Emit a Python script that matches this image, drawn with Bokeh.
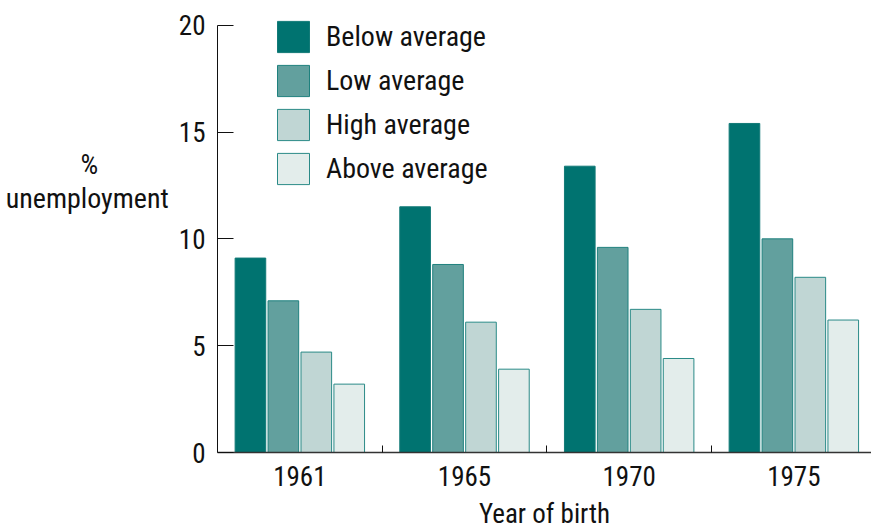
from bokeh.plotting import figure
from bokeh.models import ColumnDataSource, Range1d, FixedTicker
from bokeh.transform import dodge
from bokeh.embed import file_html
from bokeh.resources import INLINE

years = ["1961", "1965", "1970", "1975"]
below = [9.1, 11.5, 13.4, 15.4]
low = [7.1, 8.8, 9.6, 10.0]
high = [4.7, 6.1, 6.7, 8.2]
above = [3.2, 3.9, 4.4, 6.2]
series_names = ["Below average", "Low average", "High average", "Above average"]
y_ticks = [0, 5, 10, 15, 20]

FONT = "Roboto Condensed"
NB = "\u00a0"

src = ColumnDataSource(dict(x=list(range(len(years))), below=below, low=low, high=high, above=above))

p = figure(width=871, height=532, output_backend="svg", toolbar_location=None,
           x_range=Range1d(-0.5, 3.4715), y_range=Range1d(0, 20.5),
           min_border_left=217, min_border_top=14, min_border_bottom=80, min_border_right=0)
p.outline_line_color = None
p.xgrid.visible = False
p.ygrid.visible = False
p.background_fill_color = "white"

fills = ["#007370", "#62a09e", "#c0d6d4", "#e3edeb"]
lines = ["#127a77", "#1f817e", "#2a8a87", "#2a8a87"]
cols = ["below", "low", "high", "above"]
offs = [-0.3, -0.1, 0.1, 0.3]
for col, name, fc, lc, off in zip(cols, series_names, fills, lines, offs):
    p.vbar(x=dodge("x", off), top=col, bottom=0, width=0.186, source=src,
           fill_color=fc, line_color=lc, line_width=1, legend_label=name)

# y axis
ya = p.yaxis[0]
ya.ticker = FixedTicker(ticks=y_ticks)
ya.bounds = (y_ticks[0], y_ticks[-1])
ya.major_tick_in = 16
ya.major_tick_out = 0
ya.minor_tick_line_color = None
ya.axis_line_color = "#111111"
ya.major_tick_line_color = "#111111"
ya.major_label_text_font = FONT
ya.major_label_text_font_size = "27px"
ya.major_label_text_color = "#111111"
ya.major_label_standoff = 12
ya.axis_label = (NB * 11 + "%" + NB * 11 + "\nunemployment\n" + NB + "\n" + NB + "\n" + NB)
ya.axis_label_orientation = "horizontal"
ya.axis_label_text_font = FONT
ya.axis_label_text_font_size = "28px"
ya.axis_label_text_font_style = "normal"
ya.axis_label_text_color = "#111111"
ya.axis_label_text_line_height = 1.05
ya.axis_label_standoff = 7

# x axis
xa = p.xaxis[0]
xa.ticker = FixedTicker(ticks=list(range(len(years))), minor_ticks=[i + 0.5 for i in range(len(years) - 1)])
xa.major_label_overrides = {i: y for i, y in enumerate(years)}
xa.major_tick_in = 0
xa.major_tick_out = 0
xa.minor_tick_in = 7
xa.minor_tick_out = 0
xa.minor_tick_line_color = "#111111"
xa.axis_line_color = "#333333"
xa.axis_line_width = 1.5
xa.major_label_text_font = FONT
xa.major_label_text_font_size = "27px"
xa.major_label_text_color = "#111111"
xa.major_label_text_line_height = 1.0
xa.major_label_standoff = 13
xa.axis_label = "Year of birth"
xa.axis_label_text_font = FONT
xa.axis_label_text_font_size = "27px"
xa.axis_label_text_font_style = "normal"
xa.axis_label_text_color = "#111111"
xa.axis_label_text_line_height = 1.0
xa.axis_label_standoff = 9

lg = p.legend[0]
lg.location = (56, 264)
lg.padding = 0
lg.margin = 0
lg.spacing = 5
lg.glyph_width = 40
lg.glyph_height = 39
lg.label_standoff = 13
lg.label_text_font = FONT
lg.label_text_font_size = "28px"
lg.label_text_color = "#111111"
lg.border_line_color = None
lg.background_fill_alpha = 0

open("out.html", "w").write(file_html(p, INLINE))
